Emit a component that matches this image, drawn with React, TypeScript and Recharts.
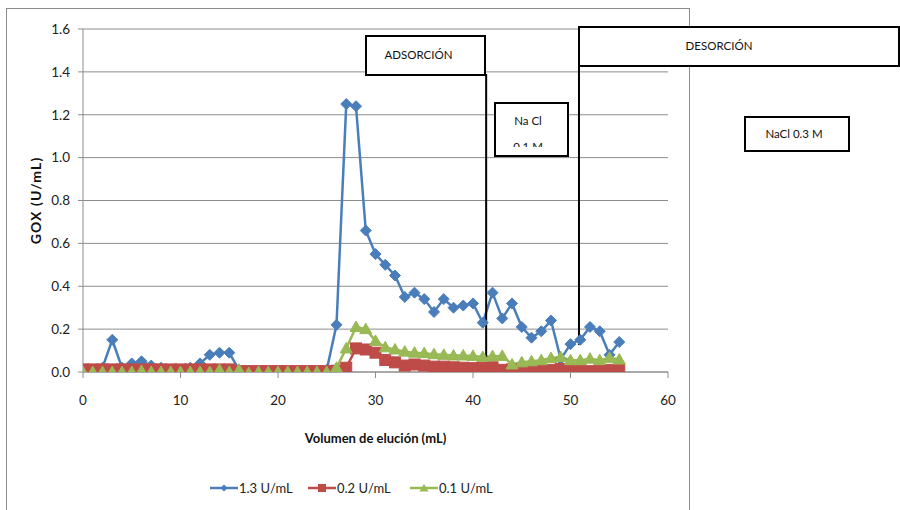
import React from 'react';
import { LineChart, Line, XAxis, YAxis, CartesianGrid, ReferenceLine, Legend } from 'recharts';

// ---------- data ----------
const volumes = [
  0, 1, 2, 3, 4, 5, 6, 7, 8, 9, 10, 11, 12, 13, 14, 15, 16, 17, 18, 19,
  20, 21, 22, 23, 24, 25, 26, 27, 28, 29, 30, 31, 32, 33, 34, 35, 36, 37, 38, 39,
  40, 41, 42, 43, 44, 45, 46, 47, 48, 49, 50, 51, 52, 53, 54, 55,
];
const gox13 = [
  0.0, 0.01, 0.02, 0.15, 0.02, 0.04, 0.05, 0.03, 0.02, 0.01, 0.01, 0.02, 0.04, 0.08, 0.09, 0.09, 0.01, 0.0, 0.0, 0.0,
  0.0, 0.0, 0.0, 0.0, 0.0, 0.01, 0.22, 1.25, 1.24, 0.66, 0.55, 0.5, 0.45, 0.35, 0.37, 0.34, 0.28, 0.34, 0.3, 0.31,
  0.32, 0.23, 0.37, 0.25, 0.32, 0.21, 0.16, 0.19, 0.24, 0.06, 0.13, 0.15, 0.21, 0.19, 0.08, 0.14,
];
const gox02 = [
  0.012, 0.012, 0.012, 0.012, 0.012, 0.012, 0.012, 0.012, 0.012, 0.012, 0.012, 0.012, 0.012, 0.012, 0.012, 0.012, 0.004, 0.004, 0.004, 0.004,
  0.004, 0.004, 0.004, 0.004, 0.004, 0.004, 0.006, 0.02, 0.11, 0.105, 0.09, 0.056, 0.045, 0.03, 0.035, 0.03, 0.025, 0.025, 0.022, 0.02,
  0.018, 0.02, 0.022, 0.01, 0.012, 0.0, 0.004, 0.008, 0.01, 0.014, 0.008, 0.01, 0.004, 0.008, 0.01, 0.014,
];
const gox01 = [
  0.0, 0.0, 0.0, 0.0, 0.0, 0.0, 0.005, 0.0, 0.0, 0.0, 0.0, 0.0, 0.0, 0.0, 0.01, 0.0, 0.01, -0.005, 0.0, 0.0,
  0.0, 0.0, 0.0, 0.0, 0.0, 0.0, 0.02, 0.11, 0.21, 0.2, 0.145, 0.115, 0.105, 0.095, 0.09, 0.088, 0.083, 0.08, 0.077, 0.077,
  0.075, 0.07, 0.074, 0.075, 0.035, 0.045, 0.05, 0.055, 0.065, 0.07, 0.055, 0.055, 0.062, 0.055, 0.066, 0.058,
];
const seriesNames = ['1.3 U/mL', '0.2 U/mL', '0.1 U/mL'];
const xTicks = [0, 10, 20, 30, 40, 50, 60];
const yTicks = [0, 0.2, 0.4, 0.6, 0.8, 1.0, 1.2, 1.4, 1.6];
const xTitle = 'Volumen de elución (mL)';
const yTitle = 'GOX (U/mL)';

// annotation positions (data units) for the two phase separators
const adsorcionX = 41.35;
const adsorcionTop = 1.39;
const adsorcionBottom = 0.02;
const desorcionX = 50.87;
const desorcionTop = 1.427;
const desorcionBottom = 0.126;

const data = volumes.map((v, i) => ({ x: v, a: gox13[i], b: gox02[i], c: gox01[i] }));

// ---------- styles ----------
const BLUE = '#4A7EBB';
const RED = '#BE4B48';
const GREEN = '#98B954';
const GRID = '#8C8C8C';
const FONT = 'Lato, "Open Sans", sans-serif';

const diamondDot = (p: any) => {
  const { cx, cy, index } = p;
  if (cx == null || cy == null) return <g key={`bd${index}`} />;
  const r = 5.5;
  return (
    <path key={`bd${index}`} d={`M${cx},${cy - r}L${cx + r},${cy}L${cx},${cy + r}L${cx - r},${cy}Z`} fill={BLUE} stroke={BLUE} strokeWidth={1} />
  );
};
const squareDot = (p: any) => {
  const { cx, cy, index } = p;
  if (cx == null || cy == null) return <g key={`rs${index}`} />;
  const r = 5.5;
  return <rect key={`rs${index}`} x={cx - r} y={cy - r} width={2 * r} height={2 * r} fill={RED} stroke={RED} strokeWidth={1} />;
};
const triangleDot = (p: any) => {
  const { cx, cy, index } = p;
  if (cx == null || cy == null) return <g key={`gt${index}`} />;
  return (
    <path key={`gt${index}`} d={`M${cx},${cy - 6}L${cx + 6},${cy + 4.5}L${cx - 6},${cy + 4.5}Z`} fill={GREEN} stroke={GREEN} strokeWidth={1} />
  );
};

const legendX = [210, 308, 410];
const legendColors = [BLUE, RED, GREEN];

const legendMarker = (i: number) => {
  const c = legendColors[i];
  if (i === 0) return <path d="M14,2.5L17.5,6L14,9.5L10.5,6Z" fill={c} />;
  if (i === 1) return <rect x={10} y={2} width={8} height={8} fill={c} />;
  return <path d="M14,2L18.5,9.5L9.5,9.5Z" fill={c} />;
};

const renderLegend = () => (
  <div style={{ position: 'relative', width: 900, height: 20, fontFamily: FONT, fontSize: 13, color: '#222' }}>
    {seriesNames.map((name, i) => (
      <div key={name} style={{ position: 'absolute', left: legendX[i], top: 0, height: 20, display: 'flex', alignItems: 'center' }}>
        <svg width={28} height={12} style={{ display: 'block' }}>
          <line x1={0} y1={6} x2={28} y2={6} stroke={legendColors[i]} strokeWidth={2.5} />
          {legendMarker(i)}
        </svg>
        <span style={{ marginLeft: 1, whiteSpace: 'nowrap' }}>{name}</span>
      </div>
    ))}
  </div>
);

const renderXLabel = (props: any) => {
  const vb = props && props.viewBox ? props.viewBox : { x: 83, y: 372, width: 584, height: 138 };
  return (
    <text x={vb.x + vb.width / 2} y={vb.y + 66} textAnchor="middle" dominantBaseline="central" fontWeight="bold" fontSize={13} fill="#111" fontFamily={FONT}>
      {xTitle}
    </text>
  );
};
const renderYLabel = (props: any) => {
  const vb = props && props.viewBox ? props.viewBox : { x: 0, y: 29, width: 83, height: 343 };
  const cx = vb.x + 35;
  const cy = vb.y + vb.height / 2;
  return (
    <text x={cx} y={cy} transform={`rotate(-90, ${cx}, ${cy})`} textAnchor="middle" dominantBaseline="central" fontWeight="bold" fontSize={14} letterSpacing={1.1} fill="#111" fontFamily={FONT}>
      {yTitle}
    </text>
  );
};

type BoxLine = { text: string; cx: number; cy: number };
const AnnBox = ({ left, top, width, height, clipH, lines }: { left: number; top: number; width: number; height: number; clipH?: number; lines: BoxLine[] }) => (
  <div
    style={{
      position: 'absolute', left, top, width, height, boxSizing: 'border-box', border: '2px solid #000',
      background: '#fff', overflow: 'hidden', fontFamily: FONT, fontSize: 11.5, color: '#111',
    }}
  >
    <div style={{ position: 'absolute', left: 0, top: 0, width: '100%', height: clipH ?? height, overflow: 'hidden' }}>
      {lines.map((l) => (
        <span
          key={l.text}
          style={{ position: 'absolute', left: l.cx - left - 2, top: l.cy - top - 2, transform: 'translate(-50%, -50%)', whiteSpace: 'nowrap', lineHeight: 1 }}
        >
          {l.text}
        </span>
      ))}
    </div>
  </div>
);

export default function App() {
  return (
    <div style={{ position: 'absolute', left: 0, top: 0, width: 900, height: 510, overflow: 'hidden', background: '#fff' }}>
      <div style={{ position: 'absolute', left: 6, top: 8, width: 684, height: 530, boxSizing: 'border-box', border: '1px solid #8c8c8c' }} />
      <LineChart width={900} height={510} data={data} margin={{ top: 29, right: 232, bottom: 0, left: 0 }} style={{ fontFamily: FONT }}>
        <CartesianGrid vertical={false} stroke={GRID} strokeWidth={1} />
        <XAxis
          type="number" dataKey="x" domain={[0, 60]} ticks={xTicks} height={138} interval={0}
          tickSize={6} tickMargin={17} stroke={GRID} tick={{ fill: '#222', fontSize: 13.5 }}
          label={renderXLabel} allowDataOverflow
        />
        <YAxis
          type="number" domain={[0, 1.6]} ticks={yTicks} width={83} interval={0}
          tickSize={5} tickMargin={8} stroke={GRID} tick={{ fill: '#222', fontSize: 13.5 }}
          tickFormatter={(v: number) => v.toFixed(1)} label={renderYLabel} allowDataOverflow
        />
        <Line type="linear" dataKey="a" name={seriesNames[0]} stroke={BLUE} strokeWidth={2.5} dot={diamondDot} activeDot={false} isAnimationActive={false} />
        <Line type="linear" dataKey="b" name={seriesNames[1]} stroke={RED} strokeWidth={2.5} dot={squareDot} activeDot={false} isAnimationActive={false} />
        <Line type="linear" dataKey="c" name={seriesNames[2]} stroke={GREEN} strokeWidth={2.5} dot={triangleDot} activeDot={false} isAnimationActive={false} />
        <ReferenceLine segment={[{ x: adsorcionX, y: adsorcionTop }, { x: adsorcionX, y: adsorcionBottom }]} stroke="#000" strokeWidth={2} ifOverflow="visible" />
        <ReferenceLine segment={[{ x: desorcionX, y: desorcionTop }, { x: desorcionX, y: desorcionBottom }]} stroke="#000" strokeWidth={2} ifOverflow="visible" />
        <Legend layout="horizontal" verticalAlign="middle" align="center" content={renderLegend} wrapperStyle={{ left: 0, top: 478, width: 900, height: 20 }} />
      </LineChart>
      <AnnBox left={365} top={34.5} width={121} height={41.5} lines={[{ text: 'ADSORCIÓN', cx: 418.5, cy: 54.5 }]} />
      <AnnBox left={494} top={101.7} width={75} height={55} clipH={43.5} lines={[{ text: 'Na Cl', cx: 528, cy: 121 }, { text: '0.1 M', cx: 528, cy: 147.5 }]} />
      <AnnBox left={578} top={26} width={322} height={41} lines={[{ text: 'DESORCIÓN', cx: 719, cy: 46 }]} />
      <AnnBox left={744} top={115.7} width={106} height={36} lines={[{ text: 'NaCl 0.3 M', cx: 794, cy: 134 }]} />
    </div>
  );
}
